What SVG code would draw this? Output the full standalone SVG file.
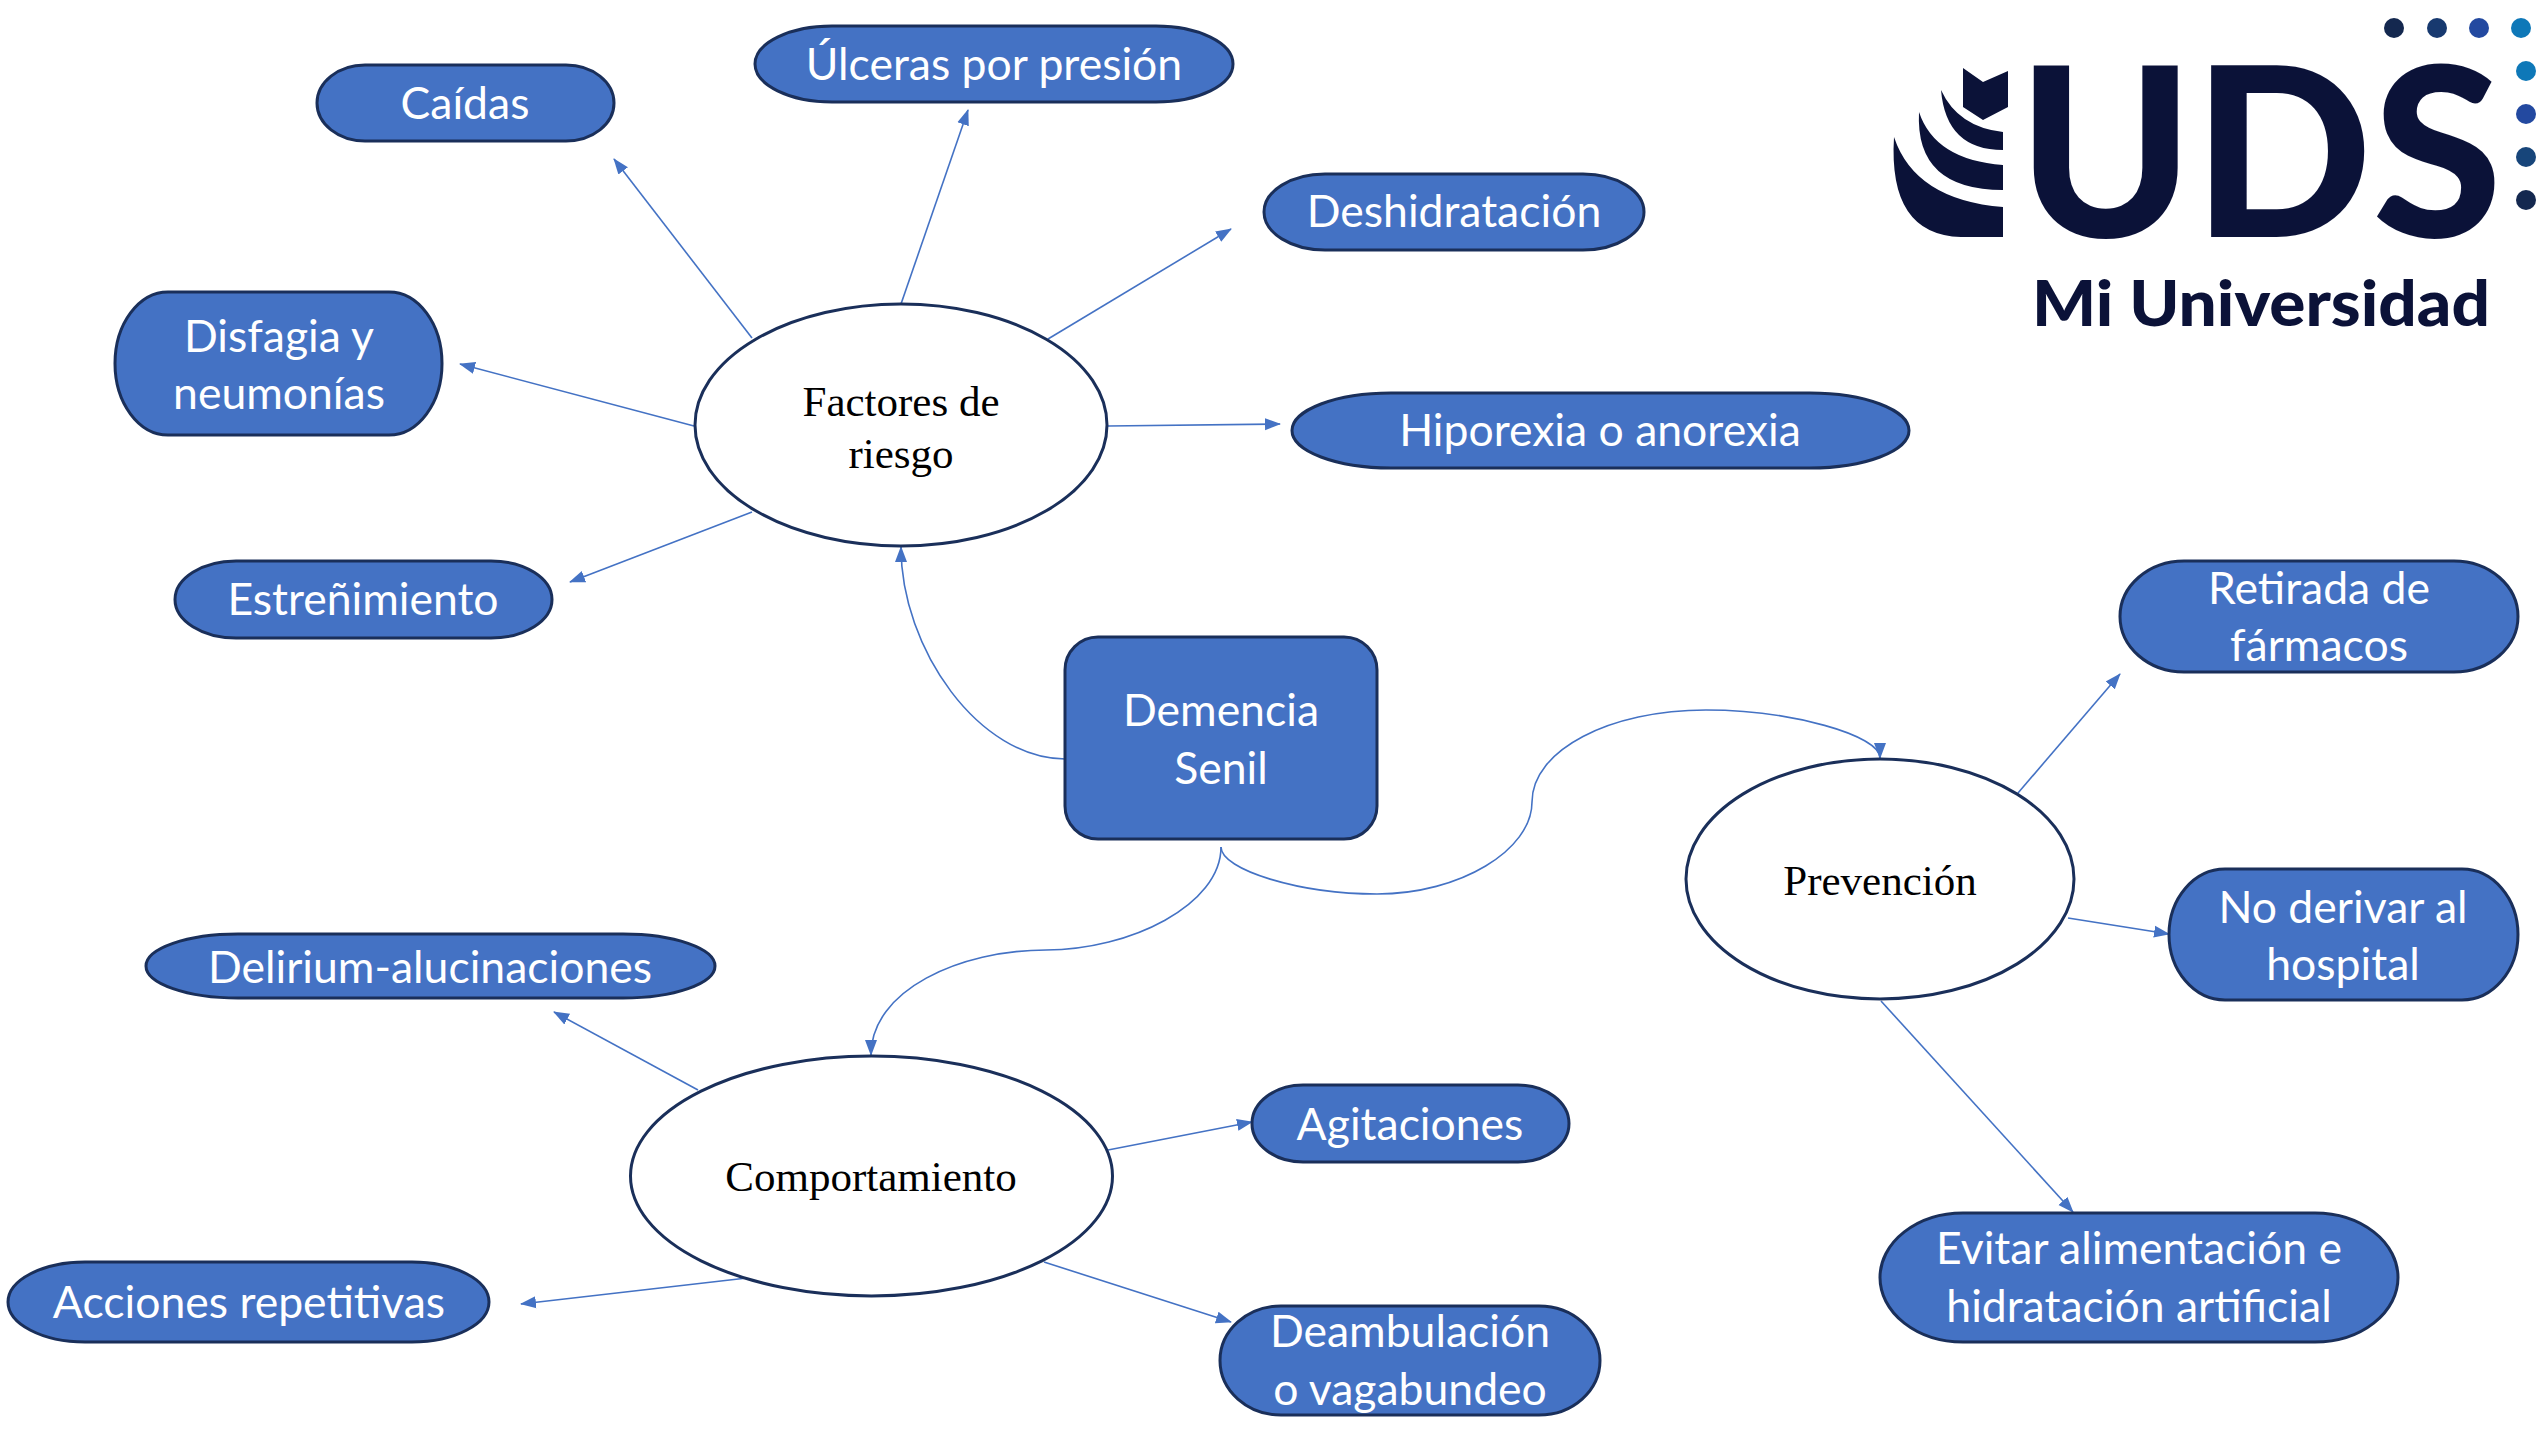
<svg xmlns="http://www.w3.org/2000/svg" width="2547" height="1440" viewBox="0 0 2547 1440">
<style>
.b{fill:#4472c4;stroke:#1a2f5a;stroke-width:3}
.e{fill:#fff;stroke:#1a2f5a;stroke-width:3}
.t{font-family:"Lato","Liberation Sans",sans-serif;font-size:44.5px;fill:#fff;text-anchor:middle}
.s{font-family:"Liberation Serif",serif;font-size:43px;fill:#000;text-anchor:middle}
.c{fill:none;stroke:#4472c4;stroke-width:1.6;marker-end:url(#a)}
.l{fill:#0b1238}
</style>
<defs><marker id="a" markerUnits="userSpaceOnUse" markerWidth="16" markerHeight="16" refX="15" refY="8" orient="auto"><path d="M0,2 L16,8 L0,14 Z" fill="#4472c4"/></marker></defs>
<rect width="2547" height="1440" fill="#fff"/>
<g id="connectors">
<path class="c" d="M752,338L614,159"/>
<path class="c" d="M901,304L968,110"/>
<path class="c" d="M1048,339L1231,229"/>
<path class="c" d="M1108,426L1280,424"/>
<path class="c" d="M694,426L460,364"/>
<path class="c" d="M752,512L570,582"/>
<path class="c" d="M1065,759C980,759 901,650 901,547"/>
<path class="c" d="M1221,847C1221,905 1130,950 1046,950C960,950 871,990 871,1055"/>
<path class="c" d="M1221,847C1221,870 1300,894 1377,894C1460,894 1532,850 1532,802C1532,750 1610,710 1706,710C1790,710 1880,735 1880,758"/>
<path class="c" d="M2018,793L2120,674"/>
<path class="c" d="M2068,918L2169,934"/>
<path class="c" d="M1881,1001L2073,1212"/>
<path class="c" d="M698,1090L554,1012"/>
<path class="c" d="M1108,1150L1252,1122"/>
<path class="c" d="M747,1278L521,1304"/>
<path class="c" d="M1044,1262L1231,1322"/>
</g>
<g id="caidas"><rect class="b" x="317" y="65" width="297" height="76" rx="48" ry="38"/><text class="t" x="465" y="119">Caídas</text></g>
<g id="ulceras"><rect class="b" x="755" y="26" width="478" height="76" rx="77" ry="38"/><text class="t" x="994" y="80">Úlceras por presión</text></g>
<g id="deshidratacion"><rect class="b" x="1264" y="174" width="380" height="76" rx="61" ry="38"/><text class="t" x="1454" y="227">Deshidratación</text></g>
<g id="hiporexia"><rect class="b" x="1292" y="393" width="617" height="75" rx="99" ry="37.5"/><text class="t" x="1600" y="446">Hiporexia o anorexia</text></g>
<g id="disfagia"><rect class="b" x="115" y="292" width="327" height="143" rx="53" ry="71.5"/><text class="t" x="279" y="352">Disfagia y</text><text class="t" x="279" y="409">neumonías</text></g>
<g id="estrenimiento"><rect class="b" x="175" y="561" width="377" height="77" rx="61" ry="38.5"/><text class="t" x="363" y="615">Estreñimiento</text></g>
<g id="factores"><ellipse class="e" cx="901" cy="425" rx="206" ry="121"/><text class="s" x="901" y="416">Factores de</text><text class="s" x="901" y="468">riesgo</text></g>
<g id="demencia"><rect class="b" x="1065" y="637" width="312" height="202" rx="33"/><text class="t" x="1221" y="726">Demencia</text><text class="t" x="1221" y="784">Senil</text></g>
<g id="prevencion"><ellipse class="e" cx="1880" cy="879" rx="194" ry="120"/><text class="s" x="1880" y="895">Prevención</text></g>
<g id="retirada"><rect class="b" x="2120" y="561" width="398" height="111" rx="64" ry="55.5"/><text class="t" x="2319" y="604">Retirada de</text><text class="t" x="2319" y="661">fármacos</text></g>
<g id="noderivar"><rect class="b" x="2169" y="869" width="349" height="131" rx="56" ry="65.5"/><text class="t" x="2343" y="923">No derivar al</text><text class="t" x="2343" y="980">hospital</text></g>
<g id="evitar"><rect class="b" x="1880" y="1213" width="518" height="129" rx="83" ry="64.5"/><text class="t" x="2139" y="1264">Evitar alimentación e</text><text class="t" x="2139" y="1322">hidratación artificial</text></g>
<g id="comportamiento"><ellipse class="e" cx="871.500" cy="1176" rx="241" ry="120"/><text class="s" x="871" y="1191">Comportamiento</text></g>
<g id="delirium"><rect class="b" x="146" y="934" width="569" height="64" rx="92" ry="32"/><text class="t" x="430" y="983">Delirium-alucinaciones</text></g>
<g id="agitaciones"><rect class="b" x="1252" y="1085" width="317" height="77" rx="51" ry="38.500"/><text class="t" x="1410" y="1140">Agitaciones</text></g>
<g id="acciones"><rect class="b" x="8" y="1262" width="481" height="80" rx="77" ry="40"/><text class="t" x="249" y="1318">Acciones repetitivas</text></g>
<g id="deambulacion"><rect class="b" x="1220" y="1306" width="380" height="109" rx="61" ry="54.500"/><text class="t" x="1410" y="1347">Deambulación</text><text class="t" x="1410" y="1405">o vagabundeo</text></g>
<g id="logo">
<path class="l" d="M1963,68L1983,82L2008,71V107L1983,120L1963,107Z"/>
<path class="l" d="M1941,90Q1958,127 2003,132V150Q1946,150 1941,90Z"/>
<path class="l" d="M1919,112Q1935,160 2003,165V190Q1915,190 1919,112Z"/>
<path class="l" d="M1894,137Q1915,200 2003,207V237H1961Q1888,235 1894,137Z"/>
<text class="l" x="2018" y="237" font-family="Lato,sans-serif" font-weight="900" font-size="236" textLength="484" lengthAdjust="spacingAndGlyphs">UDS</text>
<text class="l" x="2032" y="326" font-family="Lato,sans-serif" font-weight="900" font-size="62" textLength="458" lengthAdjust="spacingAndGlyphs">Mi Universidad</text>
<circle cx="2394" cy="28" r="10" fill="#14284f"/><circle cx="2437" cy="28" r="10" fill="#17396f"/><circle cx="2479" cy="28" r="10" fill="#2349a0"/><circle cx="2521" cy="28" r="10" fill="#0e78b8"/>
<circle cx="2526" cy="71" r="10" fill="#0e78b8"/><circle cx="2526" cy="114" r="10" fill="#2349a0"/><circle cx="2526" cy="157" r="10" fill="#17457a"/><circle cx="2526" cy="200" r="10" fill="#14284f"/>
</g>
</svg>
